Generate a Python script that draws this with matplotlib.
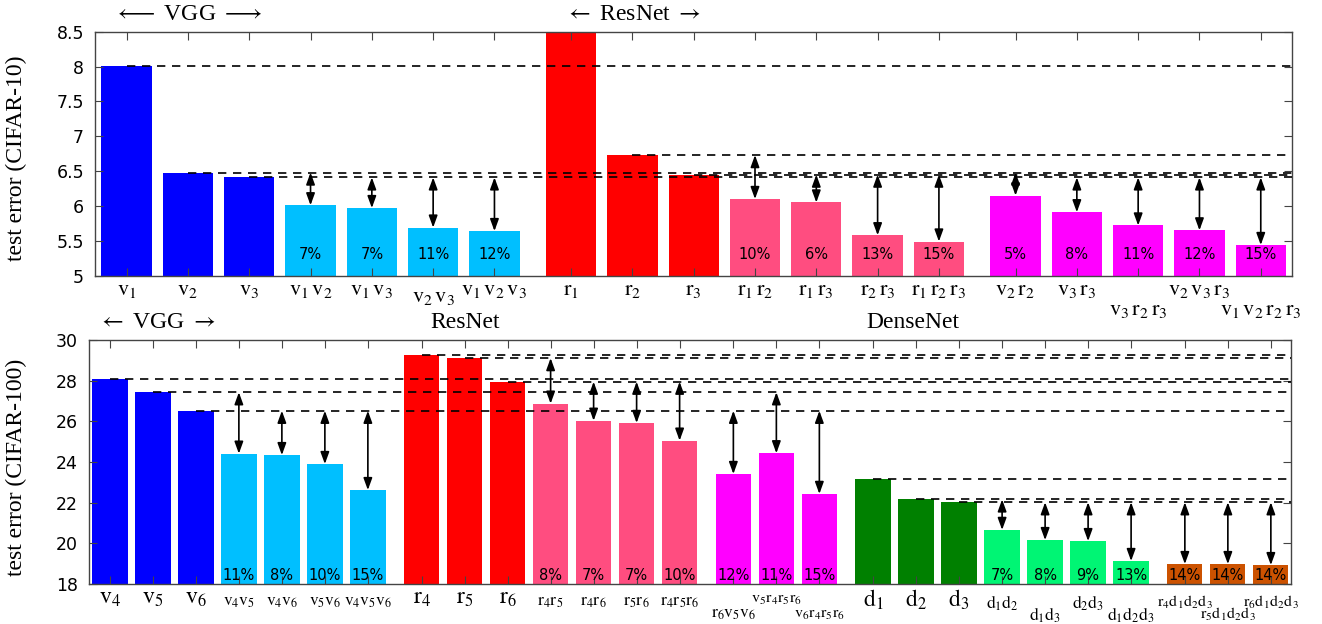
import re
import matplotlib
matplotlib.use('Agg')
import matplotlib.pyplot as plt

plt.rcParams['font.family'] = ['Liberation Serif', 'DejaVu Serif']
plt.rcParams['mathtext.fontset'] = 'stix'

# ---- CIFAR-10 (top panel) ----
top_labels = ['v1', 'v2', 'v3', 'v1v2', 'v1v3', 'v2v3', 'v1v2v3',
              'r1', 'r2', 'r3', 'r1r2', 'r1r3', 'r2r3', 'r1r2r3',
              'v2r2', 'v3r3', 'v3r2r3', 'v2v3r3', 'v1v2r2r3']
top_values = [8.01, 6.48, 6.41, 6.01, 5.97, 5.69, 5.64,
              9.0, 6.73, 6.45, 6.10, 6.05, 5.58, 5.49,
              6.15, 5.91, 5.72, 5.65, 5.44]
top_kinds = ['vs'] * 3 + ['vc'] * 4 + ['rs'] * 3 + ['rc'] * 4 + ['mx'] * 5
top_groups = [0] * 7 + [1] * 7 + [2] * 5
# which single model the arrow starts from (None = no arrow)
top_refs = [None, None, None, 'v2', 'v3', 'v3', 'v3',
            None, None, None, 'r2', 'r3', 'r3', 'r3',
            'v2', 'v3', 'v3', 'v3', 'v3']
top_pct = ['', '', '', '7%', '7%', '11%', '12%',
           '', '', '', '10%', '6%', '13%', '15%',
           '5%', '8%', '11%', '12%', '15%']
top_rows = [0, 0, 0, 0, 0, 1, 0, 0, 0, 0, 0, 0, 0, 0, 0, 0, 2, 0, 2]
top_dashed = ['v1', 'v2', 'v3', 'r2', 'r3']

# ---- CIFAR-100 (bottom panel) ----
bot_labels = ['v4', 'v5', 'v6', 'v4v5', 'v4v6', 'v5v6', 'v4v5v6',
              'r4', 'r5', 'r6', 'r4r5', 'r4r6', 'r5r6', 'r4r5r6',
              'r6v5v6', 'v5r4r5r6', 'v6r4r5r6',
              'd1', 'd2', 'd3', 'd1d2', 'd1d3', 'd2d3', 'd1d2d3',
              'r4d1d2d3', 'r5d1d2d3', 'r6d1d2d3']
bot_values = [28.07, 27.43, 26.52, 24.41, 24.34, 23.90, 22.62,
              29.26, 29.11, 27.95, 26.87, 26.03, 25.92, 25.05,
              23.41, 24.43, 22.43,
              23.15, 22.16, 22.02, 20.66, 20.16, 20.11, 19.13,
              18.98, 18.98, 18.93]
bot_kinds = (['vs'] * 3 + ['vc'] * 4 + ['rs'] * 3 + ['rc'] * 4 + ['mx'] * 3
             + ['ds'] * 3 + ['dc'] * 4 + ['rd'] * 3)
bot_groups = [0] * 7 + [1] * 7 + [2] * 3 + [3] * 7 + [4] * 3
bot_refs = [None, None, None, 'v5', 'v6', 'v6', 'v6',
            None, None, None, 'r5', 'r6', 'r6', 'r6',
            'v6', 'v5', 'v6',
            None, None, None, 'd2', 'd3', 'd3', 'd3',
            'd3', 'd3', 'd3']
bot_pct = ['', '', '', '11%', '8%', '10%', '15%',
           '', '', '', '8%', '7%', '7%', '10%',
           '12%', '11%', '15%',
           '', '', '', '7%', '8%', '9%', '13%',
           '14%', '14%', '14%']
bot_rows = [0, 0, 0, 0, 0, 0, 0,
            0, 0, 0, 0, 0, 0, 0,
            2, -1, 2,
            0, 0, 0, 0, 2, 0, 2,
            0, 2, 0]
bot_dashed = ['v4', 'v5', 'v6', 'r4', 'r5', 'r6', 'd1', 'd2', 'd3']

colors = {'vs': '#0000ff', 'vc': '#00bfff', 'rs': '#ff0000', 'rc': '#ff4d80',
          'mx': '#ff00ff', 'ds': '#008000', 'dc': '#00f574', 'rd': '#cc5200'}

GAP = 0.25
SPINE = '#444444'
SANS = 'DejaVu Sans'


def positions(groups):
    xs = []
    for i, g in enumerate(groups):
        xs.append(i + g * GAP)
    return xs


def to_math(name, sep):
    parts = re.findall(r'([a-z])(\d)', name)
    return '$' + sep.join(r'\mathrm{%s}_{%s}' % (c, d) for c, d in parts) + '$'


def draw_panel(ax, labels, values, kinds, groups, refs, pct, rows, dashed,
               ylim, yticks, xlim, pct_y, label_style, row_offsets):
    xs = positions(groups)
    pos = dict(zip(labels, xs))
    val = dict(zip(labels, values))
    ax.bar(xs, values, width=0.82, color=[colors[k] for k in kinds],
           zorder=1)

    for name in dashed:
        ax.plot([pos[name], xlim[1]], [val[name], val[name]], color='k',
                lw=1.2, dashes=(5, 4), zorder=3)

    for x, v, r in zip(xs, values, refs):
        if r is None:
            continue
        ax.annotate('', xy=(x, v), xytext=(x, val[r]),
                    arrowprops=dict(arrowstyle='<|-|>,head_length=0.55,head_width=0.2',
                                    lw=1.2, color='k', shrinkA=0, shrinkB=0,
                                    mutation_scale=13),
                    zorder=4)

    for x, p in zip(xs, pct):
        if p:
            ax.text(x, pct_y, p, ha='center', va='center', fontsize=10.5,
                    family=SANS, zorder=5)

    ax.set_xlim(*xlim)
    ax.set_ylim(*ylim)
    ax.set_xticks(xs)
    ax.set_xticklabels([])
    ax.set_yticks(yticks)
    ax.set_yticklabels(['%g' % t for t in yticks], family=SANS, fontsize=12.5)
    ax.tick_params(axis='both', direction='in', length=6, color=SPINE,
                   top=True, right=True, pad=8)
    for s in ax.spines.values():
        s.set_color(SPINE)
        s.set_linewidth(1.0)

    for x, name, k, row in zip(xs, labels, kinds, rows):
        size, off, sep = label_style(name, k)
        ax.annotate(to_math(name, sep), xy=(x, 0),
                    xycoords=ax.get_xaxis_transform(),
                    xytext=(0, -off - row_offsets[row]),
                    textcoords='offset points', ha='center', va='top',
                    fontsize=size, annotation_clip=False)
    return pos


def top_style(name, kind):
    return 16, 4, r'\,'


def bot_style(name, kind):
    if kind in ('vs', 'rs', 'ds'):
        return 17, 3, ''
    if len(name) >= 8:
        return 11.5, 7, ''
    return 12.5, 7, ''


fig = plt.figure(figsize=(13.22, 6.24), dpi=100)
ax1 = fig.add_axes([0.0719, 0.5582, 0.9052, 0.3910])
ax2 = fig.add_axes([0.0675, 0.0641, 0.9091, 0.3910])

p1 = draw_panel(ax1, top_labels, top_values, top_kinds, top_groups, top_refs,
                top_pct, top_rows, top_dashed, (5, 8.5),
                [5, 5.5, 6, 6.5, 7, 7.5, 8, 8.5], (-0.515, 19.005), 5.3,
                top_style, {0: 0, 1: 5, 2: 14})
p2 = draw_panel(ax2, bot_labels, bot_values, bot_kinds, bot_groups, bot_refs,
                bot_pct, bot_rows, bot_dashed, (18, 30),
                [18, 20, 22, 24, 26, 28, 30], (-0.48, 27.47), 18.44,
                bot_style, {0: 0, -1: -2, 2: 8.5})

ax1.set_ylabel('test error (CIFAR-10)', fontsize=17)
ax1.yaxis.set_label_coords(-0.057, 0.48)
ax2.set_ylabel('test error (CIFAR-100)', fontsize=17)
ax2.yaxis.set_label_coords(-0.052, 0.48)

# group headings above the panels
head = dict(xycoords=ax1.get_xaxis_transform(), ha='center', va='center',
            fontsize=17, annotation_clip=False)
ax1.annotate(r'$\longleftarrow$ VGG $\longrightarrow$', xy=(p1['v2'], 1.07), **head)
ax1.annotate(r'$\leftarrow$ ResNet $\rightarrow$', xy=(p1['r2'], 1.07), **head)
head['xycoords'] = ax2.get_xaxis_transform()
ax2.annotate(r'$\leftarrow$ VGG $\rightarrow$', xy=(p2['v5'] + 0.1, 1.07), **head)
ax2.annotate('ResNet', xy=(p2['r5'], 1.07), **head)
ax2.annotate('DenseNet', xy=(p2['d2'] - 0.08, 1.07), **head)

fig.savefig('out.png', dpi=100)
